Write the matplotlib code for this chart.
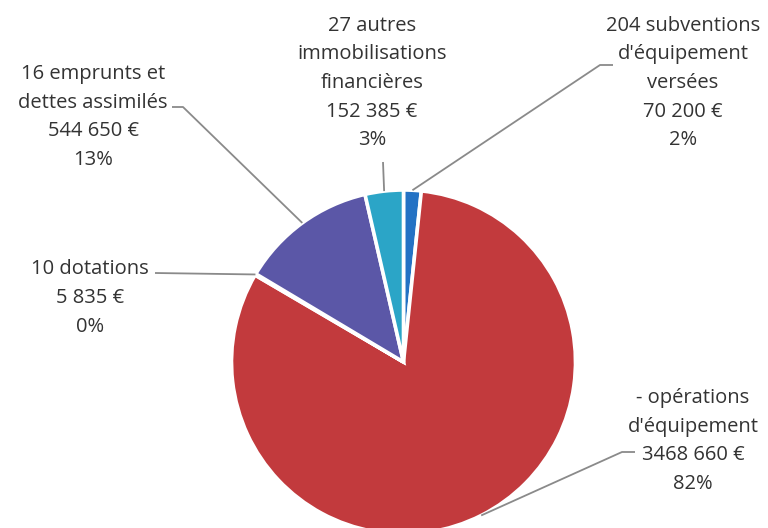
import numpy as np
import matplotlib.pyplot as plt

# Data (clockwise from 12 o'clock)
categories = ["204 subventions\nd'équipement\nversées",
              "- opérations\nd'équipement",
              "10 dotations",
              "16 emprunts et\ndettes assimilés",
              "27 autres\nimmobilisations\nfinancières"]
amounts = [70200, 3468660, 5835, 544650, 152385]
amount_labels = ["70 200 €", "3468 660 €", "5 835 €", "544 650 €", "152 385 €"]
pct_labels = ["2%", "82%", "0%", "13%", "3%"]
colors = ["#2472c4", "#c23a3d", "#3d7fc0", "#5b57a7", "#2ba5c7"]

W, H = 768, 528
fig = plt.figure(figsize=(W / 100, H / 100), dpi=100)
ax = fig.add_axes([0, 0, 1, 1])

cx, cy, r = 403.5, H - 362, 172
wedges, _ = ax.pie(amounts, colors=colors, startangle=90, counterclock=False,
                   center=(cx, cy), radius=r, frame=True,
                   wedgeprops=dict(edgecolor="white", linewidth=2.6))
ax.set_xlim(0, W)
ax.set_ylim(0, H)
ax.set_aspect("equal")
ax.axis("off")

# label layout, in image pixels (x right, y down)
label_pos = [(683, 83), (693, 441), (90, 298), (93, 117), (372, 83)]
elbows = [[(613, 65), (600, 65)],
          [(635, 452), (622, 452)],
          [(155, 273)],
          [(172, 107), (183, 107)],
          [(383, 162)]]

txt_kw = dict(ha="center", va="center", multialignment="center",
              fontsize=14.5, color="#333333", family=["Open Sans", "DejaVu Sans"],
              linespacing=1.57)

for w, cat, amt, pct, pos, elb in zip(wedges, categories, amount_labels,
                                       pct_labels, label_pos, elbows):
    ax.text(pos[0], H - pos[1], f"{cat}\n{amt}\n{pct}", **txt_kw)
    mid = np.deg2rad((w.theta1 + w.theta2) / 2)
    tip = (cx + r * np.cos(mid), cy + r * np.sin(mid))
    xs = [p[0] for p in elb] + [tip[0]]
    ys = [H - p[1] for p in elb] + [tip[1]]
    ax.plot(xs, ys, color="#8a8a8a", lw=1.3, solid_capstyle="butt")

fig.savefig("out.png", dpi=100, facecolor="white")
